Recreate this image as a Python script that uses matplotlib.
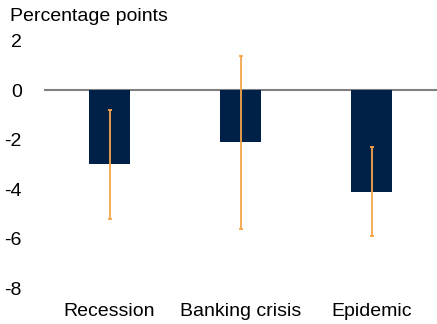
import numpy as np
import matplotlib.pyplot as plt

plt.rcParams['font.family'] = ['Liberation Sans', 'DejaVu Sans']
plt.rcParams['axes.unicode_minus'] = False

categories = ['Recession', 'Banking crisis', 'Epidemic']
values = [-3.0, -2.1, -4.1]
upper = [-0.8, 1.4, -2.3]
lower = [-5.2, -5.6, -5.9]

navy = '#002147'
orange = '#F5A54A'

fig = plt.figure(figsize=(4.37, 3.24), dpi=100)
ax = fig.add_axes([0.1007, 0.111, 0.9, 0.763])

x = np.arange(len(categories))
vals = np.array(values)
yerr = [vals - np.array(lower), np.array(upper) - vals]

ax.bar(x, vals, width=0.315, color=navy, zorder=2)
ax.axhline(0, color='#808080', lw=1.5, zorder=1)
ax.errorbar(x, vals, yerr=yerr, fmt='none', ecolor=orange, elinewidth=1.3,
            capsize=1.5, capthick=1.3, zorder=3)

ax.set_xlim(-0.5, 2.5)
ax.set_ylim(-8, 2)
ax.set_yticks([2, 0, -2, -4, -6, -8])
ax.set_xticks(x)
ax.set_xticklabels(categories)
ax.tick_params(length=0, labelsize=14)
ax.tick_params(axis='y', pad=16)
ax.tick_params(axis='x', pad=11)
for s in ax.spines.values():
    s.set_visible(False)

fig.text(0.023, 0.948, 'Percentage points', fontsize=14, va='center', ha='left')

fig.savefig('out.png', dpi=100)
